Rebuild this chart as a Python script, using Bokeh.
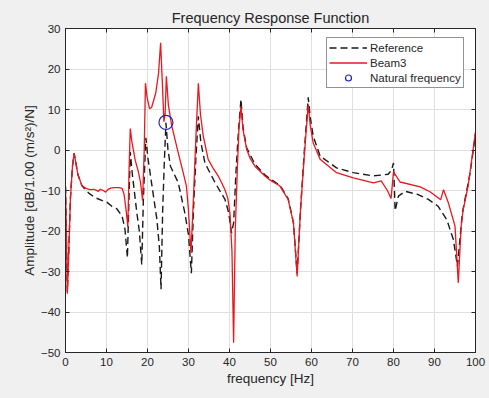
from bokeh.plotting import figure
from bokeh.models import Range1d, Legend, LegendItem, FixedTicker, LinearAxis, CustomJSTickFormatter
from bokeh.embed import file_html
from bokeh.resources import INLINE

# Beam3 curve (red)
beam_f = [0.0, 0.2, 0.45, 0.8, 1.2, 1.7, 2.1, 2.5, 3.0, 4.0, 5.0, 6.0, 7.0, 8.0, 8.5, 9.2, 9.8,
          10.3, 11.0, 12.0, 13.0, 13.8, 14.3, 14.8, 15.2, 15.5, 15.8, 16.2, 17.0, 17.8, 18.3, 18.8,
          19.2, 19.5, 19.9, 20.5, 21.0, 22.0, 22.7, 23.2, 23.6, 24.0, 24.3, 24.6, 25.1, 25.9, 27.5,
          28.7, 29.5, 30.0, 30.6, 31.2, 31.8, 32.4, 32.9, 33.6, 34.8, 36.0, 37.3, 38.9, 39.6, 40.1,
          40.6, 41.0, 41.4, 41.9, 42.3, 42.8, 43.3, 44.2, 45.0, 46.2, 48.7, 50.0, 52.3, 54.3, 55.6,
          56.5, 57.3, 58.2, 59.2, 59.7, 60.4, 62.1, 66.1, 70.2, 75.1, 77.0, 78.5, 79.4, 80.0, 81.6,
          86.5, 88.9, 91.5, 92.2, 93.4, 95.0, 95.8, 96.5, 97.0, 98.2, 100.0]
beam_a = [-9.0, -20.0, -35.5, -25.0, -12.0, -4.0, -0.8, -3.0, -6.0, -8.8, -9.5, -9.8, -9.7, -10.2,
          -9.7, -10.0, -10.4, -9.8, -9.4, -9.3, -9.3, -9.5, -11.0, -15.0, -19.0, -5.0, 5.3, 2.0,
          -2.5, -5.5, -8.0, -12.5, 0.0, 16.5, 13.0, 10.2, 10.5, 14.0, 19.0, 26.5, 17.0, 7.0, 9.0,
          18.2, 11.0, 6.0, -0.7, -5.6, -9.0, -15.0, -25.5, -12.0, 3.0, 16.5, 9.0, 3.4, -2.3, -4.5,
          -6.5, -9.8, -12.0, -15.5, -25.0, -47.6, -20.0, -5.0, 5.0, 10.8, 5.0, 0.1, -2.0, -4.0,
          -6.5, -7.5, -8.9, -12.2, -18.0, -31.2, -15.0, -2.0, 11.2, 6.0, 1.8, -2.3, -5.6, -6.9,
          -8.1, -7.6, -10.0, -12.0, -5.4, -7.9, -9.1, -10.3, -12.3, -9.8, -13.1, -18.8, -32.8,
          -18.8, -14.7, -8.9, 4.5]

# Reference curve (black dashed)
ref_f = [0.0, 0.2, 0.45, 0.8, 1.2, 1.7, 2.1, 2.5, 3.0, 4.0, 4.8, 6.0, 7.3, 9.0, 10.0, 11.3, 12.5,
         13.8, 14.5, 15.1, 15.4, 15.8, 16.3, 17.0, 17.4, 18.0, 18.6, 19.0, 19.6, 20.1, 21.1, 22.3,
         22.9, 23.3, 23.7, 24.1, 24.5, 25.0, 25.6, 27.5, 29.1, 30.0, 30.7, 31.2, 31.8, 32.4, 33.0,
         34.0, 36.5, 38.9, 39.8, 40.5, 41.0, 41.6, 42.2, 42.8, 43.3, 44.2, 46.2, 48.7, 50.0, 52.3,
         54.3, 55.6, 56.5, 57.3, 58.2, 59.2, 59.7, 60.4, 62.1, 66.1, 70.2, 75.0, 78.7, 79.5, 80.0,
         80.4, 81.2, 82.8, 86.0, 88.5, 90.9, 93.0, 94.6, 95.6, 96.8, 98.7, 100.0]
ref_a = [-9.0, -20.0, -35.0, -25.0, -12.0, -4.0, -0.8, -3.0, -6.0, -8.8, -9.8, -10.9, -11.8, -12.5,
         -12.8, -13.9, -14.5, -16.3, -19.5, -26.6, -15.0, -0.5, -6.0, -12.0, -15.5, -20.0, -28.3,
         -12.0, 3.0, -2.0, -8.9, -17.2, -24.0, -34.4, -15.0, -3.0, 6.7, 0.0, -4.0, -8.1, -15.5,
         -21.0, -30.4, -15.0, -2.0, 8.3, 2.0, -3.2, -8.1, -12.2, -15.5, -20.5, -18.0, -5.0, 5.0,
         12.5, 5.5, 0.5, -3.5, -6.2, -7.2, -8.7, -12.0, -18.0, -30.5, -15.0, -1.0, 13.0, 8.0, 3.5,
         -1.5, -4.4, -5.6, -6.4, -6.0, -5.0, -3.2, -15.0, -11.4, -10.2, -11.0, -12.2, -13.9, -17.2,
         -22.1, -28.7, -15.5, -5.6, 4.0]

# Natural frequency marker
nat_f = [24.5]
nat_a = [6.8]

x_ticks = list(range(0, 101, 10))
y_ticks = list(range(-50, 31, 10))

TXT = "#262626"
FONT = "Liberation Sans"

p = figure(width=489, height=398, output_backend="svg", toolbar_location=None,
           x_range=Range1d(0, 100), y_range=Range1d(-50, 30),
           min_border_left=65, min_border_right=14, min_border_top=28, min_border_bottom=46,
           background_fill_color="white", border_fill_color="#f0f0f0")

p.title.text = "Frequency Response Function"
p.title.align = "center"
p.title.text_font = FONT
p.title.text_font_size = "14.5px"
p.title.text_font_style = "normal"
p.title.text_color = TXT
p.title.standoff = 5

p.outline_line_color = TXT
p.outline_line_width = 1

bottom_ax = p.below[0]
left_ax = p.left[0]

for ax in (bottom_ax, left_ax):
    ax.major_tick_in = 4
    ax.major_tick_out = 0
    ax.minor_tick_in = 0
    ax.minor_tick_out = 0
    ax.axis_line_color = TXT
    ax.major_tick_line_color = TXT
    ax.major_label_text_font = FONT
    ax.major_label_text_font_size = "11.5px"
    ax.major_label_text_color = TXT
    ax.axis_label_text_font = FONT
    ax.axis_label_text_font_size = "13.5px"
    ax.axis_label_text_font_style = "normal"
    ax.axis_label_text_color = TXT

bottom_ax.ticker = FixedTicker(ticks=x_ticks)
left_ax.ticker = FixedTicker(ticks=y_ticks)
bottom_ax.axis_label = "frequency [Hz]"
left_ax.axis_label = "Amplitude [dB/1.00 (m/s²)/N]"
bottom_ax.major_label_standoff = 5
left_ax.major_label_standoff = 5
bottom_ax.axis_label_standoff = 2
left_ax.axis_label_standoff = 1

# box ticks on the top and right edges (no labels)
top_ax = LinearAxis(ticker=FixedTicker(ticks=x_ticks),
                    formatter=CustomJSTickFormatter(code="return '';"))
right_ax = LinearAxis(ticker=FixedTicker(ticks=y_ticks),
                      formatter=CustomJSTickFormatter(code="return '';"))
for ax in (top_ax, right_ax):
    ax.major_label_standoff = 0
    ax.major_tick_in = 4
    ax.major_tick_out = 0
    ax.minor_tick_in = 0
    ax.minor_tick_out = 0
    ax.axis_line_color = TXT
    ax.major_tick_line_color = TXT
p.add_layout(top_ax, "above")
p.add_layout(right_ax, "right")

p.xgrid.ticker = FixedTicker(ticks=x_ticks)
p.ygrid.ticker = FixedTicker(ticks=y_ticks)
p.grid.grid_line_color = "#dfdfdf"
p.grid.grid_line_width = 1

ref_r = p.line(ref_f, ref_a, line_color="#1a1a1a", line_width=1.4, line_dash="7 4")
beam_r = p.line(beam_f, beam_a, line_color="#e8181e", line_width=1.3)
nat_r = p.scatter(nat_f, nat_a, marker="circle", size=14, fill_color=None,
                  line_color="#1f1fc8", line_width=1.2)

legend = Legend(items=[LegendItem(label="Reference", renderers=[ref_r]),
                       LegendItem(label="Beam3", renderers=[beam_r]),
                       LegendItem(label="Natural frequency", renderers=[nat_r])],
                location=(261, 264))
legend.glyph_width = 38
legend.glyph_height = 15
legend.label_height = 15
legend.label_standoff = 3
legend.spacing = 0
legend.padding = 2
legend.margin = 0
legend.label_text_font = FONT
legend.label_text_font_size = "11.5px"
legend.label_text_color = TXT
legend.border_line_color = TXT
legend.border_line_width = 1
legend.background_fill_color = "white"
legend.background_fill_alpha = 1
p.add_layout(legend, "center")

html = file_html(p, INLINE)
html = html.replace("<head>", "<head><style>body{background:#f0f0f0;}</style>", 1)
open("out.html", "w").write(html)
